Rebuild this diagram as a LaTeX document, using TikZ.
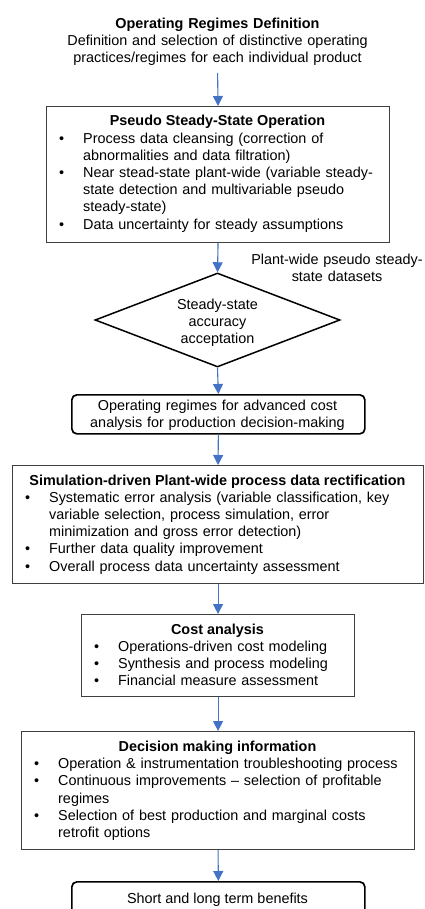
\documentclass[tikz,border=0pt]{standalone}
\usepackage{fontspec}
\setmainfont{Liberation Sans}
\usetikzlibrary{shapes.geometric,arrows.meta}
\definecolor{flowblue}{HTML}{4472C4}
\definecolor{framegray}{HTML}{3F3F3F}
% bullet item with hanging indent, closed by its own paragraph end
\newcommand\bitem[1]{\hangindent=24pt\hangafter=1\noindent\makebox[24pt][l]{\textbullet}#1\par}
\begin{document}
\begin{tikzpicture}[x=1pt,y=-1pt,
  every node/.style={font=\fontsize{14.4pt}{17.2pt}\selectfont, inner sep=0pt},
  frame/.style={draw=framegray, line width=1.1pt, anchor=north west},
  roundframe/.style={draw=black, line width=1.7pt, rounded corners=5pt, anchor=north west},
  decision/.style={diamond, draw=black, line width=1.5pt, aspect=2.6, minimum width=245pt, minimum height=94pt},
  flow/.style={draw=flowblue, line width=1.1pt, -{Triangle[width=10pt,length=10pt]}},
  centred/.style={anchor=base, align=center, text width=#1},
  listing/.style={anchor=base west, align=left, text width=#1},
  heading/.style={anchor=base, font=\fontsize{14.4pt}{17.2pt}\selectfont\bfseries},
]
\clip (0,0) rectangle (424,909);

% header without frame
\node[centred=400pt] (t0) at (217.5,28.5) {\textbf{Operating Regimes Definition}\\Definition and selection of distinctive operating\\practices/regimes for each individual product};

% pseudo steady-state block
\node[frame, minimum width=343pt, minimum height=136pt] (b1) at (46,106) {};
\node[heading] (h1) at (217.5,126) {Pseudo Steady-State Operation};
\node[listing=360pt] (l1) at (59,143.2) {\bitem{Process data cleansing (correction of\newline abnormalities and data filtration)}\bitem{Near stead-state plant-wide (variable steady-\newline state detection and multivariable pseudo\newline steady-state)}\bitem{Data uncertainty for steady assumptions}};

% decision diamond and side label
\node[decision] (d) at (217.5,320) {};
\node[centred=130pt] (dt) at (217.5,309) {Steady-state\\accuracy\\acceptation};
\node[centred=200pt] (lab) at (337,264.3) {Plant-wide pseudo steady-\\state datasets};

% operating regimes
\node[roundframe, minimum width=293pt, minimum height=39pt] (r1) at (71,394) {};
\node[centred=290pt] (rt) at (217.5,410) {Operating regimes for advanced cost\\analysis for production decision-making};

% rectification block
\node[frame, minimum width=411pt, minimum height=118pt] (b3) at (12,465) {};
\node[heading] (h3) at (217.5,485) {Simulation-driven Plant-wide process data rectification};
\node[listing=405pt] (l3) at (25,502.2) {\bitem{Systematic error analysis (variable classification, key\newline variable selection, process simulation, error\newline minimization and gross error detection)}\bitem{Further data quality improvement}\bitem{Overall process data uncertainty assessment}};

% cost analysis block
\node[frame, minimum width=273pt, minimum height=82pt] (b4) at (81,614) {};
\node[heading] (h4) at (217.5,634) {Cost analysis};
\node[listing=260pt] (l4) at (94,651.2) {\bitem{Operations-driven cost modeling}\bitem{Synthesis and process modeling}\bitem{Financial measure assessment}};

% decision making block
\node[frame, minimum width=393pt, minimum height=118pt] (b5) at (21,731) {};
\node[heading] (h5) at (217.5,751.5) {Decision making information};
\node[listing=390pt] (l5) at (34,768.7) {\bitem{Operation \& instrumentation troubleshooting process}\bitem{Continuous improvements -- selection of profitable\newline regimes}\bitem{Selection of best production and marginal costs\newline retrofit options}};

% benefits
\node[roundframe, minimum width=293pt, minimum height=44pt] (r2) at (71,881) {};
\node[anchor=base] (rt2) at (217.5,903.3) {Short and long term benefits};

% connectors
\draw[flow, shorten <=7pt] (t0.south) -- (b1.north);
\draw[flow] (b1.south) -- (d.north);
\draw[flow] (d.south) -- (r1.north);
\draw[flow] (r1.south) -- (b3.north);
\draw[flow] (b3.south) -- (b4.north);
\draw[flow] (b4.south) -- (b5.north);
\draw[flow] (b5.south) -- (r2.north);
\end{tikzpicture}
\end{document}
